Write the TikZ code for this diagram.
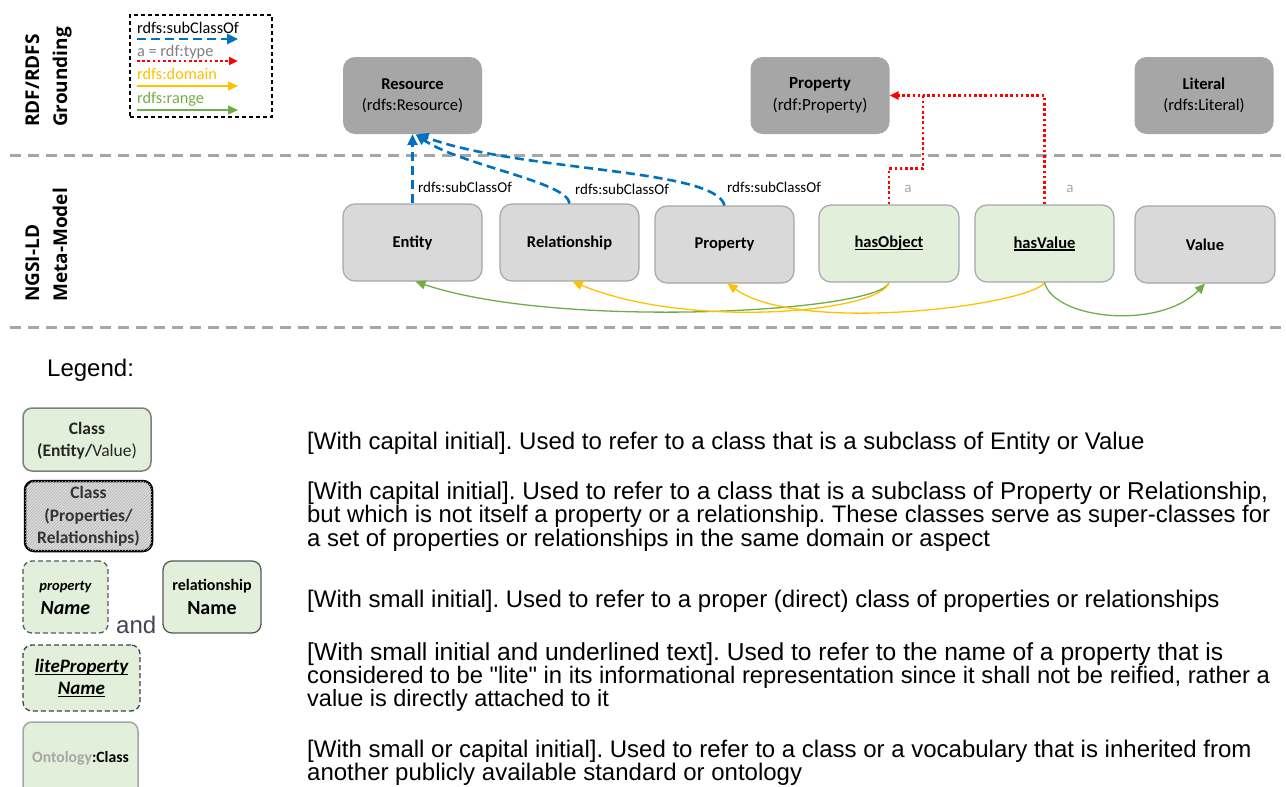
\documentclass[tikz,border=0pt]{standalone}
\usepackage{fontspec}
\setmainfont{Carlito}
\newfontfamily\arialf{Liberation Sans}
\newfontfamily\osans{Open Sans}
\usetikzlibrary{arrows.meta,patterns}
\definecolor{dgray}{HTML}{A6A6A6}
\definecolor{lgray}{HTML}{D9D9D9}
\definecolor{lgreen}{HTML}{E2EFDA}
\definecolor{bord}{HTML}{A6A6A6}
\definecolor{myblue}{HTML}{0070C0}
\definecolor{myred}{HTML}{FF0000}
\definecolor{myyellow}{HTML}{FFC000}
\definecolor{mygreen}{HTML}{70AD47}
\definecolor{sepgray}{HTML}{A6A6A6}
\definecolor{txtgray}{HTML}{7F7F7F}
\definecolor{agray}{HTML}{A6A6A6}
\definecolor{andcol}{HTML}{404552}
\definecolor{hatchcol}{HTML}{B8B8B8}
\definecolor{boxtxt}{HTML}{333333}
\newcommand{\myfs}[2]{\fontsize{#1pt}{#2pt}\selectfont}
\newcommand{\ulx}[1]{\setbox0=\hbox{#1}\rlap{\rule[-2.5pt]{\wd0}{1.1pt}}\box0}
\tikzset{
 topbox/.style={rounded corners=12pt, fill=dgray, minimum width=139pt, minimum height=77pt, inner sep=0pt, align=center, font=\myfs{16.5}{21}},
 metabox/.style={rounded corners=12pt, fill=lgray, draw=bord, line width=1.2pt, minimum width=139pt, minimum height=77pt, inner sep=0pt, font=\bfseries\myfs{16.5}{20}},
 greenbox/.style={metabox, fill=lgreen},
 subarr/.style={draw=myblue, line width=2.6pt, dash pattern=on 9pt off 5pt, -{Triangle[length=11pt,width=10pt]}},
 typarr/.style={draw=myred, line width=2.6pt, dash pattern=on 2.6pt off 2.6pt, -{Triangle[length=9pt,width=8pt]}},
 domarr/.style={draw=myyellow, line width=1.3pt, -{Triangle[length=10pt,width=9pt]}},
 rngarr/.style={draw=mygreen, line width=1.3pt, -{Triangle[length=10pt,width=9pt]}},
 sepline/.style={draw=sepgray, line width=3pt, dash pattern=on 11pt off 7pt},
 seclab/.style={rotate=90, anchor=base west, inner sep=0pt, font=\osans\bfseries\myfs{19}{22}},
 sublab/.style={anchor=west, inner sep=0pt, font=\myfs{15}{17}},
 alab/.style={anchor=center, inner sep=0pt, text=agray, font=\myfs{15}{17}},
 legtxt/.style={anchor=west, inner sep=0pt, font=\myfs{16.3}{18}},
 desc/.style={anchor=base west, inner sep=0pt, font=\arialf\frenchspacing\myfs{24}{26}},
 descsz/.style={font=\arialf\frenchspacing\myfs{#1}{26}},
 lgbox/.style={rounded corners=9pt, fill=lgreen, inner sep=0pt},
 btxt/.style={inner sep=0pt, align=center},
}
\begin{document}
\begin{tikzpicture}[x=1pt,y=-1pt]
\useasboundingbox (0,0) rectangle (1286,787);

% separators
\draw[sepline] (10,155) -- (1286,155);
\draw[sepline] (10,327) -- (1286,327);

% section labels
\node[seclab] (s1) at (39,127) {RDF/RDFS};
\node[seclab] (s2) at (67,127) {Grounding};
\node[seclab] (s3) at (39,302) {NGSI-LD};
\node[seclab] (s4) at (67,302) {Meta-Model};

% top legend box
\node[draw=black, line width=1.3pt, dash pattern=on 4pt off 3pt, minimum width=142pt, minimum height=102pt, inner sep=0pt] (legbox) at (201,66) {};
\node[legtxt] (lt1) at (137,28) {rdfs:subClassOf};
\node[legtxt, text=txtgray] (lt2) at (137,52) {a = rdf:type};
\node[legtxt, text=myyellow] (lt3) at (137,74) {rdfs:domain};
\node[legtxt, text=mygreen] (lt4) at (137,99) {rdfs:range};
\coordinate (la1) at (137,39); \coordinate (lb1) at (238,39);
\coordinate (la2) at (137,61); \coordinate (lb2) at (238,61);
\coordinate (la3) at (137,86); \coordinate (lb3) at (238,86);
\coordinate (la4) at (137,110); \coordinate (lb4) at (238,110);
\draw[subarr] (la1) -- (lb1);
\draw[typarr] (la2) -- (lb2);
\draw[domarr] (la3) -- (lb3);
\draw[rngarr] (la4) -- (lb4);

% top boxes
\node[topbox] (Resource) at (412.5,95.5) {{\bfseries Resource}\\(rdfs:Resource)};
\node[topbox, font=\myfs{17}{22}] (PropertyTop) at (820,95.5) {{\bfseries Property}\\(rdf:Property)};
\node[topbox] (Literal) at (1204,95.5) {{\bfseries Literal}\\(rdfs:Literal)};

% meta boxes
\node[metabox] (Entity) at (412.5,242.5) {Entity};
\node[metabox] (Relationship) at (569.5,242.5) {Relationship};
\node[metabox] (PropertyM) at (724.5,244.5) {Property};
\node[greenbox, minimum width=140pt] (hasObject) at (889,243.5) {\ulx{hasObject}};
\node[greenbox] (hasValue) at (1044.5,243.5) {\ulx{hasValue}};
\node[metabox, minimum width=140pt] (Value) at (1205,244.5) {Value};

% subclass arrows
\draw[subarr] (Entity.north) -- (Resource.south);
\draw[subarr] (Relationship.north) .. controls (568,182) and (460,165) .. ([xshift=3pt]Resource.south);
\draw[subarr] (PropertyM.north) .. controls (715,168) and (520,172) .. ([xshift=5pt]Resource.south);
\node[sublab] (sl1) at (418,187) {rdfs:subClassOf};
\node[sublab] (sl2) at (575,189) {rdfs:subClassOf};
\node[sublab] (sl3) at (727,187) {rdfs:subClassOf};

% rdf:type arrows
\coordinate (rj) at (923,95.5);
\draw[typarr] (hasObject.north) -- ++(0,-36) -| (rj) -- (PropertyTop.east);
\draw[typarr, -] (hasValue.north) |- (rj);
\node[alab] (a1) at (908,189) {a};
\node[alab] (a2) at (1070,189) {a};

% domain / range curves
\draw[rngarr] (hasObject.south) .. controls (880,312) and (560,330) .. ([xshift=3pt]Entity.south);
\draw[domarr] (hasObject.south) .. controls (880,312) and (690,330) .. ([xshift=3pt]Relationship.south);
\draw[domarr] (hasValue.south) .. controls (1030,305) and (800,335) .. ([xshift=3pt]PropertyM.south);
\draw[rngarr] (hasValue.south) .. controls (1055,320) and (1160,330) .. (Value.south);

% bottom legend
\node[anchor=base west, inner sep=0pt, font=\arialf\myfs{24}{26}] (legend) at (47,376) {Legend:};

\node[lgbox, draw=txtgray, line width=1.5pt, minimum width=128pt, minimum height=63pt] (L1) at (87,439.5) {};
\node[btxt, font=\bfseries\myfs{17.5}{22}, text=black!85] (T1) at (87,441) {Class\\(Entity/{\mdseries Value)}};

\node[rounded corners=9pt, fill=lgray, draw=black, line width=2.5pt, minimum width=127pt, minimum height=70pt, inner sep=0pt, postaction={pattern=north east lines, pattern color=hatchcol}] (L2) at (88.5,516) {};
\node[btxt, font=\bfseries\myfs{17.5}{22.5}, text=boxtxt] (T2) at (88.5,516.5) {Class\\(Properties/\\Relationships)};

\node[lgbox, draw=black!65, line width=1.3pt, dash pattern=on 5pt off 3pt, minimum width=85pt, minimum height=72pt] (L3) at (65.5,597) {};
\node[btxt, font=\bfseries\itshape\myfs{14.5}{16}] (T3a) at (65.5,587) {property};
\node[btxt, font=\bfseries\itshape\myfs{20}{22}] (T3b) at (65.5,608) {Name};

\node[anchor=base west, inner sep=0pt, font=\arialf\myfs{24}{26}, text=andcol] (and) at (116,633) {and};

\node[lgbox, draw=black!65, line width=1.3pt, minimum width=98pt, minimum height=72pt] (L4) at (212,597) {};
\node[btxt, font=\bfseries\myfs{16}{18}] (T4a) at (212,586) {relationship};
\node[btxt, font=\bfseries\myfs{20}{22}] (T4b) at (212,608) {Name};

\node[lgbox, draw=black!75, line width=1.3pt, dash pattern=on 5pt off 3pt, minimum width=117pt, minimum height=66pt] (L5) at (81.5,678) {};
\node[btxt, font=\bfseries\itshape\myfs{19}{21}] (T5a) at (81.5,667) {\ulx{liteProperty}};
\node[btxt, font=\bfseries\itshape\myfs{19}{21}] (T5b) at (81.5,690) {\ulx{Name}};

\node[lgbox, draw=agray, line width=1.5pt, minimum width=115pt, minimum height=78pt] (L6) at (80.5,761) {};
\node[btxt, font=\bfseries\myfs{15.7}{18}] (T6) at (80.5,758) {{\color{agray}Ontology}:Class};

% descriptions
\node[desc] (d1) at (307,449) {[With capital initial]. Used to refer to a class that is a subclass of Entity or Value};
\node[desc, descsz=24.35] (d2) at (307,499) {[With capital initial]. Used to refer to a class that is a subclass of Property or Relationship,};
\node[desc, descsz=23.9] (d3) at (307,522.5) {but which is not itself a property or a relationship. These classes serve as super-classes for};
\node[desc] (d4) at (307,546) {a set of properties or relationships in the same domain or aspect};
\node[desc] (d5) at (307,607) {[With small initial]. Used to refer to a proper (direct) class of properties or relationships};
\node[desc, descsz=24.6] (d6) at (307,660) {[With small initial and underlined text]. Used to refer to the name of a property that is};
\node[desc, descsz=23.8] (d7) at (307,683) {considered to be "lite" in its informational representation since it shall not be reified, rather a};
\node[desc, descsz=23.5] (d8) at (307,706) {value is directly attached to it};
\node[desc] (d9) at (307,757) {[With small or capital initial]. Used to refer to a class or a vocabulary that is inherited from};
\node[desc] (d10) at (307,780) {another publicly available standard or ontology};
\end{tikzpicture}
\end{document}
